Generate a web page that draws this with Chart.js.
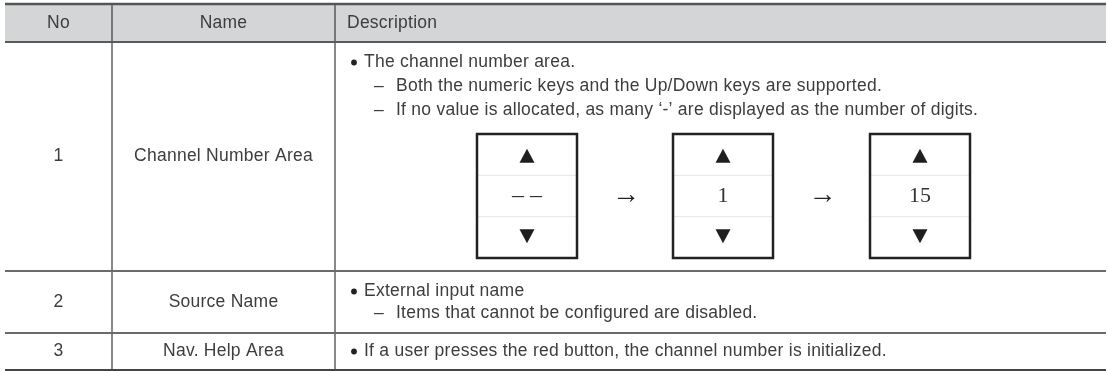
<!DOCTYPE html>
<html>
<head>
<meta charset="utf-8">
<script src="https://cdn.jsdelivr.net/npm/chart.js@4/dist/chart.umd.min.js"></script>
<style>
  html, body { margin: 0; padding: 0; background: #fff; }
  canvas { display: block; }
</style>
</head>
<body>
<canvas id="table" width="1108" height="371"></canvas>
<script>
/* spec table: channel number area / source name / nav help, drawn on a chart canvas */

const HEADERS = ['No', 'Name', 'Description'];
const ROW_NUMBERS = ['1', '2', '3'];
const ROW_NAMES = ['Channel Number Area', 'Source Name', 'Nav. Help Area'];
// each line: [level, text]  level 0 = bullet, level 1 = dash
const DESC_LINES = [
  [[0, 'The channel number area.'],
   [1, 'Both the numeric keys and the Up/Down keys are supported.'],
   [1, 'If no value is allocated, as many \u2018-\u2019 are displayed as the number of digits.']],
  [[0, 'External input name'],
   [1, 'Items that cannot be configured are disabled.']],
  [[0, 'If a user presses the red button, the channel number is initialized.']]
];
const SPIN_VALUES = ['\u2013 \u2013', '1', '15'];

// layout (pixels in the 1108 x 371 frame)
const COL_X = [5, 112, 335, 1106];
const ROW_Y = [4, 42, 271, 333, 370];
const DESC_FIRST = [62, 291, 351];
const LINE_STEP = [24, 22, 22];
const BULLET_X = 354, TEXT_X = 364, DASH_X = 374, SUB_X = 396;
const SPIN_CX = [527, 723, 920], SPIN_W = 100, SPIN_TOP = 134, SPIN_BOTTOM = 258;

const SANS = '"Liberation Sans", Arial, sans-serif';
const SERIF = '"Liberation Serif", "DejaVu Serif", serif';
const TEXT_COLOR = '#3d3d3d';
const SPACING = '0.25px';

function hLine(ctx, xs, ys, x0, x1, y, w, color) {
  ctx.beginPath();
  ctx.moveTo(xs.getPixelForValue(x0), ys.getPixelForValue(y));
  ctx.lineTo(xs.getPixelForValue(x1), ys.getPixelForValue(y));
  ctx.lineWidth = w;
  ctx.strokeStyle = color;
  ctx.stroke();
}

function vLine(ctx, xs, ys, x, y0, y1, w, color) {
  ctx.beginPath();
  ctx.moveTo(xs.getPixelForValue(x), ys.getPixelForValue(y0));
  ctx.lineTo(xs.getPixelForValue(x), ys.getPixelForValue(y1));
  ctx.lineWidth = w;
  ctx.strokeStyle = color;
  ctx.stroke();
}

function text(ctx, xs, ys, str, x, y, align, font, color, spacing) {
  ctx.font = font;
  ctx.letterSpacing = spacing || '0px';
  ctx.fillStyle = color || TEXT_COLOR;
  ctx.textAlign = align;
  ctx.textBaseline = 'middle';
  ctx.fillText(str, xs.getPixelForValue(x), ys.getPixelForValue(y));
  ctx.letterSpacing = '0px';
}

function triangle(ctx, xs, ys, cx, cy, up) {
  const x = xs.getPixelForValue(cx), y = ys.getPixelForValue(cy);
  const hw = 7.5, hh = 7;
  ctx.beginPath();
  if (up) {
    ctx.moveTo(x, y - hh); ctx.lineTo(x + hw, y + hh); ctx.lineTo(x - hw, y + hh);
  } else {
    ctx.moveTo(x, y + hh); ctx.lineTo(x + hw, y - hh); ctx.lineTo(x - hw, y - hh);
  }
  ctx.closePath();
  ctx.fillStyle = '#1e1e1e';
  ctx.fill();
}

const tablePlugin = {
  id: 'specTable',
  afterDraw(chart) {
    const ctx = chart.ctx;
    const xs = chart.scales.x, ys = chart.scales.y;
    ctx.save();

    // header band
    ctx.fillStyle = '#d4d5d7';
    ctx.fillRect(xs.getPixelForValue(COL_X[0]), ys.getPixelForValue(ROW_Y[0]),
      xs.getPixelForValue(COL_X[3]) - xs.getPixelForValue(COL_X[0]),
      ys.getPixelForValue(ROW_Y[1]) - ys.getPixelForValue(ROW_Y[0]));

    // grid
    vLine(ctx, xs, ys, COL_X[1], ROW_Y[0], ROW_Y[4], 1.2, '#3a3a3a');
    vLine(ctx, xs, ys, COL_X[2], ROW_Y[0], ROW_Y[4], 1.2, '#3a3a3a');
    hLine(ctx, xs, ys, COL_X[0], COL_X[3], ROW_Y[0], 2.5, '#555');
    hLine(ctx, xs, ys, COL_X[0], COL_X[3], ROW_Y[1], 2, '#5a5a5a');
    hLine(ctx, xs, ys, COL_X[0], COL_X[3], ROW_Y[2], 2, '#6a6a6a');
    hLine(ctx, xs, ys, COL_X[0], COL_X[3], ROW_Y[3], 2, '#6a6a6a');
    hLine(ctx, xs, ys, COL_X[0], COL_X[3], ROW_Y[4], 2, '#444');

    const font = '17.5px ' + SANS;
    const midNo = (COL_X[0] + COL_X[1]) / 2, midName = (COL_X[1] + COL_X[2]) / 2;
    const headMid = (ROW_Y[0] + ROW_Y[1]) / 2;
    text(ctx, xs, ys, HEADERS[0], midNo, headMid, 'center', font, null, SPACING);
    text(ctx, xs, ys, HEADERS[1], midName, headMid, 'center', font, null, SPACING);
    text(ctx, xs, ys, HEADERS[2], COL_X[2] + 12, headMid, 'left', font, null, SPACING);

    ROW_NUMBERS.forEach((no, i) => {
      const mid = (ROW_Y[i + 1] + ROW_Y[i + 2]) / 2;
      text(ctx, xs, ys, no, midNo, mid, 'center', font, null, SPACING);
      text(ctx, xs, ys, ROW_NAMES[i], midName, mid, 'center', font, null, SPACING);
      DESC_LINES[i].forEach(([lvl, str], j) => {
        const y = DESC_FIRST[i] + j * LINE_STEP[i];
        if (lvl === 0) {
          ctx.beginPath();
          ctx.arc(xs.getPixelForValue(BULLET_X), ys.getPixelForValue(y) + 0.5, 2.9, 0, Math.PI * 2);
          ctx.fillStyle = '#222';
          ctx.fill();
          text(ctx, xs, ys, str, TEXT_X, y, 'left', font, null, SPACING);
        } else {
          text(ctx, xs, ys, '\u2013', DASH_X, y, 'left', font);
          text(ctx, xs, ys, str, SUB_X, y, 'left', font, null, SPACING);
        }
      });
    });

    // channel number spinners
    const cellH = (SPIN_BOTTOM - SPIN_TOP) / 3;
    SPIN_VALUES.forEach((val, k) => {
      const cx = SPIN_CX[k];
      const x0 = cx - SPIN_W / 2, x1 = cx + SPIN_W / 2;
      hLine(ctx, xs, ys, x0, x1, SPIN_TOP + cellH, 1, '#e6e6e6');
      hLine(ctx, xs, ys, x0, x1, SPIN_TOP + 2 * cellH, 1, '#e6e6e6');
      ctx.lineWidth = 2.5;
      ctx.strokeStyle = '#222';
      ctx.strokeRect(xs.getPixelForValue(x0), ys.getPixelForValue(SPIN_TOP),
        xs.getPixelForValue(x1) - xs.getPixelForValue(x0),
        ys.getPixelForValue(SPIN_BOTTOM) - ys.getPixelForValue(SPIN_TOP));
      triangle(ctx, xs, ys, cx, SPIN_TOP + cellH / 2 + 1, true);
      const vFont = (k === 0 ? '24px ' : '22px ') + SERIF;
      text(ctx, xs, ys, val, cx, SPIN_TOP + cellH * 1.5, 'center', vFont, '#333');
      triangle(ctx, xs, ys, cx, SPIN_TOP + cellH * 2.5 - 1, false);
      if (k > 0) {
        const ax = (SPIN_CX[k - 1] + cx) / 2 + 1;
        text(ctx, xs, ys, '\u2192', ax, SPIN_TOP + cellH * 1.5, 'center', '28px ' + SERIF, '#222');
      }
    });

    ctx.restore();
  }
};

new Chart(document.getElementById('table'), {
  type: 'scatter',
  data: { datasets: [{ data: [] }] },
  plugins: [tablePlugin],
  options: {
    responsive: false,
    animation: false,
    devicePixelRatio: 1,
    layout: { padding: 0 },
    plugins: { legend: { display: false }, tooltip: { enabled: false } },
    scales: {
      x: { type: 'linear', min: 0, max: 1108, display: false },
      y: { type: 'linear', min: 0, max: 371, reverse: true, display: false }
    }
  }
});
</script>
</body>
</html>
